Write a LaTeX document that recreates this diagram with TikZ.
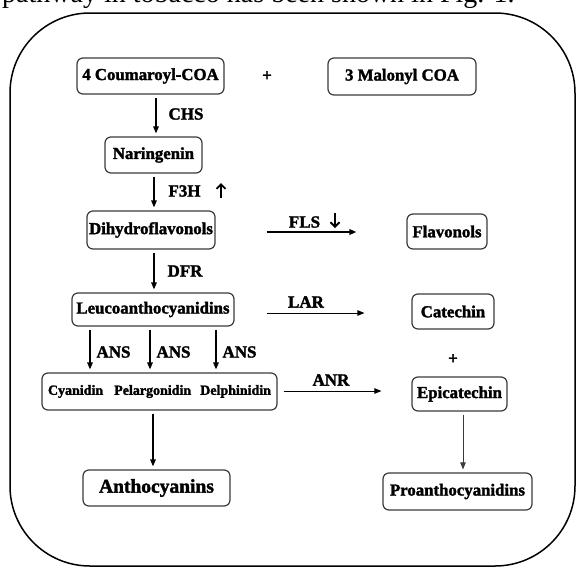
\documentclass[tikz,border=0pt]{standalone}
\usepackage{fontspec}
\setmainfont{Liberation Serif}[BoldFeatures={FakeBold=1.8}]
\usetikzlibrary{arrows.meta}
\definecolor{boxgray}{HTML}{3A3A3A}
\tikzset{
    box/.style={draw=boxgray, line width=1.2pt, rounded corners=6pt, inner sep=0pt,
        font=\bfseries\fontsize{16.8}{18}\selectfont},
    enz/.style={inner sep=0pt, font=\bfseries\fontsize{17}{18}\selectfont},
    arr/.style={line width=1.5pt, -{Triangle[length=7pt,width=5.5pt]},
        shorten <=3pt, shorten >=3pt},
    thinarr/.style={line width=0.9pt, -{Triangle[length=7pt,width=5.5pt]}},
    hint/.style={line width=1.8pt, -{Straight Barb[length=4.5pt,width=9pt]}}
}
\begin{document}
\begin{tikzpicture}[x=1pt, y=-1pt]
        \useasboundingbox (0,0) rectangle (576,568);
        \node[anchor=south west, inner sep=0pt, font=\fontsize{28}{30}\selectfont] (intro) at (2,9)
            {pathway in tobacco has been shown in Fig. 1.};
        \draw[line width=1.5pt, rounded corners=80pt] (10,13) rectangle (575,566);

        \node[box, minimum width=147pt, minimum height=36pt] (coum) at (150.5,76) {4 Coumaroyl-COA};
        \node[enz] (plusa) at (267,76) {+};
        \node[box, minimum width=148pt, minimum height=37pt] (malo) at (402,76.5) {3 Malonyl COA};
        \node[box, minimum width=97pt, minimum height=36pt] (narin) at (153.5,155) {Naringenin};
        \node[box, minimum width=128pt, minimum height=38pt] (dihyd) at (151,230) {Dihydroflavonols};
        \node[box, minimum width=80pt, minimum height=35pt] (flavo) at (447,231.5) {Flavonols};
        \node[box, minimum width=162pt, minimum height=33pt] (leuco) at (153,309.5) {Leucoanthocyanidins};
        \node[box, minimum width=82pt, minimum height=35pt] (catec) at (453,311.5) {Catechin};
        \node[enz] (plusb) at (453,359) {+};
        \node[box, minimum width=235pt, minimum height=37pt, font=\bfseries\fontsize{14}{16}\selectfont]
            (cyan) at (159.5,391.5) {Cyanidin\hspace{11pt}Pelargonidin\hspace{9pt}Delphinidin};
        \node[box, minimum width=95pt, minimum height=34pt] (epica) at (459.5,394) {Epicatechin};
        \node[box, minimum width=147pt, minimum height=36pt, font=\bfseries\fontsize{19.5}{21}\selectfont]
            (antho) at (156.5,488) {Anthocyanins};
        \node[box, minimum width=149pt, minimum height=37pt] (proan) at (457.5,491.5) {Proanthocyanidins};

        \node[enz] (chs) at (186,114) {CHS};
        \node[enz] (f3h) at (184.5,191) {F3H};
        \node[enz] (dfr) at (185,271) {DFR};
        \node[enz] (fls) at (304.5,222) {FLS};
        \node[enz] (lar) at (306,302) {LAR};
        \node[enz] (anr) at (331,380) {ANR};

        \draw[arr] ([xshift=5.5pt]coum.south) -- ([xshift=2.5pt]narin.north);
        \draw[arr] ([xshift=0.5pt]narin.south) -- ([xshift=3pt]dihyd.north);
        \draw[hint] (221,198) -- (221,183);
        \draw[arr] ([xshift=3pt]dihyd.south) -- ([xshift=1pt]leuco.north);
        \draw[arr, line width=2pt, shorten <=51pt, shorten >=50pt]
            ([yshift=-2pt]dihyd.east) -- ([yshift=-0.5pt]flavo.west);
        \draw[hint] (335,213) -- (335,228);
        \draw[thinarr, shorten <=32pt, shorten >=47pt]
            ([yshift=-3.5pt]leuco.east) -- ([yshift=-1.5pt]catec.west);
        \foreach \a/\b [count=\i] in {-63/-69.5, -3/-9.5, 63/56.5} {
            \draw[arr] ([xshift=\a pt]leuco.south) -- ([xshift=\b pt]cyan.north);
            \node[enz] (ans\i) at ([xshift=23.5pt]\a+153,352) {ANS};
        }
        \draw[thinarr, shorten <=6pt, shorten >=30pt]
            ([yshift=0.5pt]cyan.east) -- ([yshift=3pt]epica.west);
        \draw[arr] ([xshift=-6.5pt]cyan.south) -- ([xshift=-3.5pt]antho.north);
        \draw[thinarr, draw=boxgray, line width=0.8pt, shorten <=3pt, shorten >=3pt]
            ([xshift=3.5pt]epica.south) -- ([xshift=5.5pt]proan.north);
    \end{tikzpicture}
\end{document}
